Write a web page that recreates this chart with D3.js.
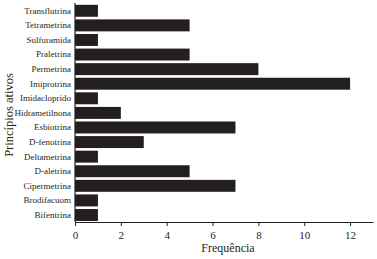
<!DOCTYPE html>
<html><head><meta charset="utf-8">
<script src="https://cdn.jsdelivr.net/npm/d3@7"></script>
<style>
body{margin:0;background:#fff;}
text{font-family:"Liberation Serif","Times New Roman",serif;fill:#231f20;}
</style></head>
<body><svg id="c" width="377" height="259"></svg>
<script>
const categories = ["Transflutrina","Tetrametrina","Sulfuramida","Praletrina","Permetrina","Imiprotrina","Imidacloprido","Hidrametilnona","Esbiotrina","D-fenotrina","Deltametrina","D-aletrina","Cipermetrina","Brodifacuom","Bifentrina"];
const values = [1,5,1,5,8,12,1,2,7,3,1,5,7,1,1];
const xTicks = [0,2,4,6,8,10,12];
const xTitle = "Frequência";
const yTitle = "Princípios ativos";

const svg = d3.select("#c");
const x = d3.scaleLinear().domain([0,13]).range([75,373]);
const y = d3.scaleBand().domain(categories).range([3.5,222.3]).paddingInner(0.18).paddingOuter(0.09);

svg.selectAll("rect.bar").data(categories).enter().append("rect")
  .attr("class","bar")
  .attr("x", x(0))
  .attr("y", d=>y(d))
  .attr("width", (d,i)=>x(values[i])-x(0))
  .attr("height", y.bandwidth())
  .attr("fill","#231f20");

const xAxis = svg.append("g").attr("transform","translate(0,222)")
  .call(d3.axisBottom(x).tickValues(xTicks).tickSize(4).tickSizeOuter(0));
xAxis.select(".domain").attr("stroke","#231f20").attr("stroke-width",1.2);
xAxis.selectAll(".tick line").attr("stroke","#231f20");
xAxis.selectAll(".tick text").attr("font-size",11).attr("dy","0.9em").style("font-family","Liberation Serif");

const yAxis = svg.append("g").attr("transform","translate(75,0)")
  .call(d3.axisLeft(y).tickSize(0).tickPadding(4));
yAxis.select(".domain").attr("stroke","#231f20").attr("stroke-width",1.2).attr("d","M0,3V222");
yAxis.selectAll(".tick text").attr("font-size",9).style("font-family","Liberation Serif");

svg.append("text").attr("x",228).attr("y",252).attr("text-anchor","middle").attr("font-size",12).text(xTitle);
svg.append("text").attr("transform","translate(12.5,115) rotate(-90)").attr("text-anchor","middle").attr("font-size",12.5).text(yTitle);
</script></body></html>
